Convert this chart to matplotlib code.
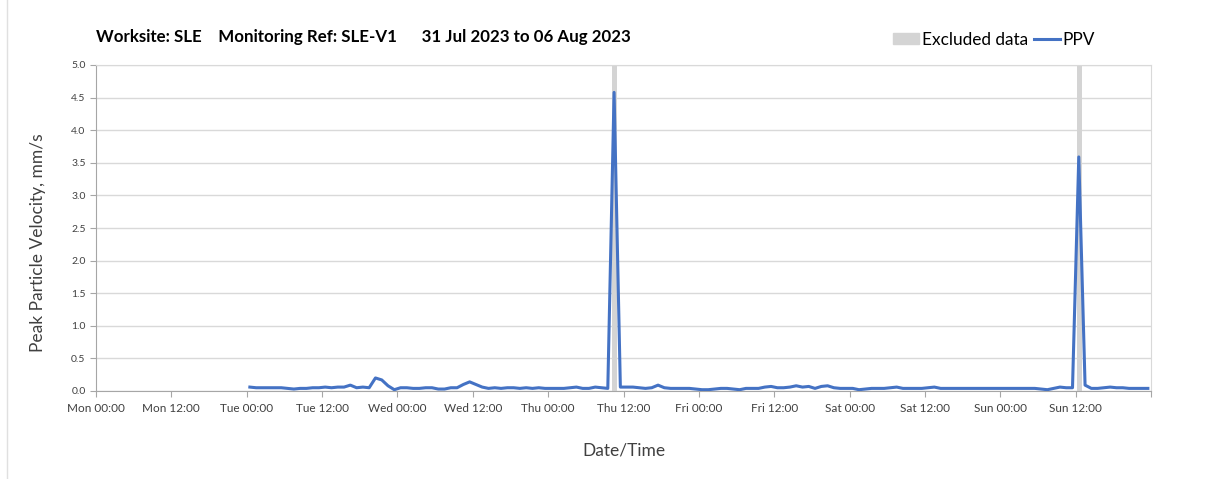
import matplotlib
matplotlib.use("Agg")
import matplotlib.pyplot as plt
import matplotlib.dates as mdates
from matplotlib.patches import Patch
from matplotlib.lines import Line2D
import numpy as np
import pandas as pd

plt.rcParams["font.family"] = ["Lato", "DejaVu Sans"]

# hourly PPV readings (mm/s), one list per day, first reading Tue 00:30
tue = [0.06, 0.05, 0.05, 0.05, 0.05, 0.05, 0.04, 0.03, 0.04, 0.04, 0.05, 0.05,
       0.06, 0.05, 0.06, 0.06, 0.09, 0.05, 0.06, 0.05, 0.20, 0.17, 0.08, 0.02]
wed = [0.05, 0.05, 0.04, 0.04, 0.05, 0.05, 0.03, 0.03, 0.05, 0.05, 0.10, 0.14,
       0.10, 0.06, 0.04, 0.05, 0.04, 0.05, 0.05, 0.04, 0.05, 0.04, 0.05, 0.04]
thu = [0.04, 0.04, 0.04, 0.05, 0.06, 0.04, 0.04, 0.06, 0.05, 0.04, 4.58, 0.06,
       0.06, 0.06, 0.05, 0.04, 0.05, 0.09, 0.05, 0.04, 0.04, 0.04, 0.04, 0.03]
fri = [0.02, 0.02, 0.03, 0.04, 0.04, 0.03, 0.02, 0.04, 0.04, 0.04, 0.06, 0.07,
       0.05, 0.05, 0.06, 0.08, 0.06, 0.07, 0.04, 0.07, 0.08, 0.05, 0.04, 0.04]
sat = [0.04, 0.02, 0.03, 0.04, 0.04, 0.04, 0.05, 0.06, 0.04, 0.04, 0.04, 0.04,
       0.05, 0.06, 0.04, 0.04, 0.04, 0.04, 0.04, 0.04, 0.04, 0.04, 0.04, 0.04]
sun = [0.04, 0.04, 0.04, 0.04, 0.04, 0.04, 0.03, 0.02, 0.04, 0.06, 0.05, 0.05,
       3.59, 0.09, 0.04, 0.04, 0.05, 0.06, 0.05, 0.05, 0.04, 0.04, 0.04, 0.04]

ppv = tue + wed + thu + fri + sat + sun
times = pd.date_range("2023-08-01 00:30", periods=len(ppv), freq="h")

excluded = [("2023-08-03 10:06", "2023-08-03 10:54"),
            ("2023-08-06 12:12", "2023-08-06 13:00")]

title = "Worksite: SLE    Monitoring Ref: SLE-V1      31 Jul 2023 to 06 Aug 2023"

x_start = pd.Timestamp("2023-07-31 00:00")
x_end = pd.Timestamp("2023-08-07 00:00")

fig = plt.figure(figsize=(12.05, 4.79), dpi=100)
ax = fig.add_axes([96 / 1205, 1 - 391 / 479, (1151 - 96) / 1205, (391 - 65) / 479])

for start, end in excluded:
    ax.axvspan(pd.Timestamp(start), pd.Timestamp(end), color="#d4d4d4", lw=0, zorder=1)

ax.plot(times, ppv, color="#4472c4", lw=2.2, zorder=3)

ax.set_xlim(x_start, x_end)
ax.set_ylim(0, 5)
ax.set_yticks(np.arange(0, 5.01, 0.5))
ax.yaxis.set_major_formatter(plt.FormatStrFormatter("%.1f"))


def fmt_date(val, pos=None):
    d = mdates.num2date(val).replace(tzinfo=None)
    if d >= x_end.to_pydatetime():
        return ""
    return d.strftime("%a %H:%M")


ax.xaxis.set_major_locator(mdates.HourLocator(byhour=[0, 12]))
ax.xaxis.set_major_formatter(plt.FuncFormatter(fmt_date))
ax.xaxis.set_minor_locator(mdates.DayLocator())
ax.grid(axis="y", color="#d9d9d9", lw=1, zorder=0)
ax.grid(axis="x", which="minor", color="#d9d9d9", lw=1, zorder=0)
ax.tick_params(axis="x", which="minor", length=0)
ax.tick_params(axis="both", which="major", length=4, color="#a6a6a6",
               labelcolor="#404040")
ax.tick_params(axis="x", labelsize=8.5, pad=5)
ax.tick_params(axis="y", labelsize=7.5)
ax.set_axisbelow(True)

for side in ["left", "bottom"]:
    ax.spines[side].set_color("#a6a6a6")
for side in ["top", "right"]:
    ax.spines[side].set_color("#d9d9d9")

ax.set_ylabel("Peak Particle Velocity, mm/s", fontsize=12.5, color="#404040")
ax.yaxis.set_label_coords(-0.047, 0.455)
ax.set_xlabel("Date/Time", fontsize=12.5, color="#404040", labelpad=20)

fig.text(96 / 1205, 1 - 37 / 479, title, fontsize=12.2, fontweight="bold",
         va="center", ha="left")

handles = [Patch(color="#d4d4d4", label="Excluded data"),
           Line2D([], [], color="#4472c4", lw=2.2, label="PPV")]
fig.legend(handles=handles, loc="center right", bbox_to_anchor=(1110 / 1205, 1 - 40 / 479),
           ncol=2, frameon=False, fontsize=12.4, handlelength=1.5, handletextpad=0.15,
           columnspacing=0.35, handleheight=0.6)

fig.add_artist(Line2D([7 / 1205, 7 / 1205], [0, 1], color="#e0e0e0", lw=1))

fig.savefig("out.png", dpi=100)
